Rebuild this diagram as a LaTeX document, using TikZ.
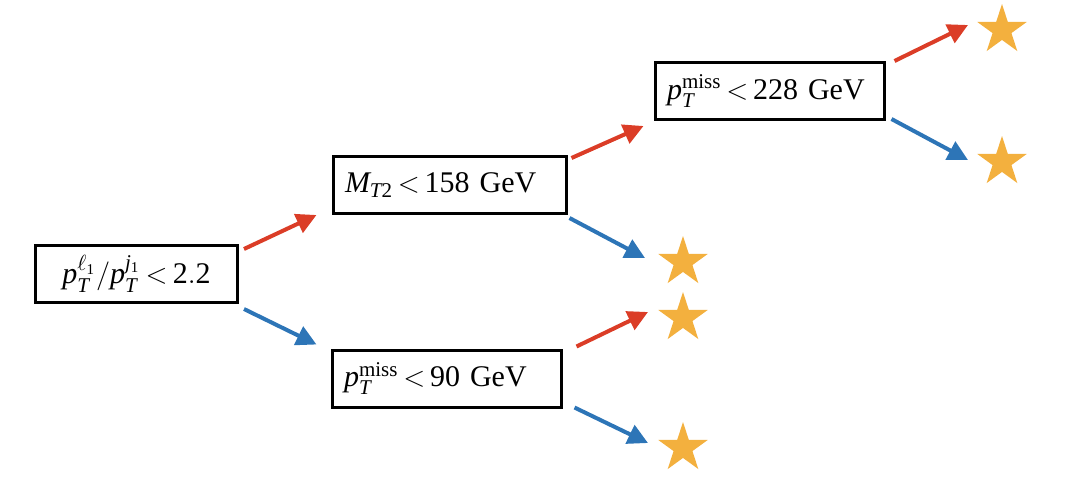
\documentclass[tikz,border=0pt]{standalone}
\usepackage{amsmath}
\usepackage{fontspec}
\setmainfont{Liberation Serif}
\usepackage{xcolor}
\usepackage{tikz}
\usetikzlibrary{arrows.meta,shapes.geometric,positioning}

\definecolor{cutred}{RGB}{219,61,39}
\definecolor{cutblue}{RGB}{45,117,183}
\definecolor{leafgold}{RGB}{243,176,62}

\newcommand{\pT}[1]{\mathit{p}_{\mathit{T}}^{#1}}
\relpenalty=10000
\binoppenalty=10000
\thickmuskip=3mu plus 1mu

\begin{document}
\begin{tikzpicture}[
    x=0.5pt, y=-0.5pt,
    cut/.style={rectangle,draw,line width=1.5pt,minimum height=28.5pt,inner xsep=6pt,
        align=left,font=\fontsize{15}{18}\selectfont},
    leaf/.style={star,star points=5,star point ratio=2.618,fill=leafgold,inner sep=0pt,minimum size=26pt},
    pass/.style={draw=cutred,line width=2pt,-{Triangle[length=10pt,width=10pt]}},
    fail/.style={draw=cutblue,line width=2pt,-{Triangle[length=10pt,width=10pt]}}
]
\useasboundingbox (0,0) rectangle (1088,488);
% cuts
\node[cut,text width=89pt,align=center] (ratio) at (136.5,274) {$\pT{\ell_{\mathrm{1}}}/\pT{\mathit{j}_{\mathrm{1}}}<\mathrm{2.2}$};
\node[cut,text width=104.5pt] (mtt) at (449.5,185) {$\mathit{M}_{\mathit{T}\mathrm{2}}<\mathrm{158}$\ GeV};
\node[cut,text width=102.5pt] (metlo) at (446.5,378.5) {$\pT{\mathrm{miss}}<\mathrm{90}$\ GeV};
\node[cut,text width=102.5pt] (methi) at (769.5,91) {$\pT{\mathrm{miss}}<\mathrm{228}$\ GeV};
% leaves
\node[leaf] (s1) at (683,262) {};
\node[leaf] (s2) at (683,318) {};
\node[leaf] (s3) at (683,448) {};
\node[leaf] (s4) at (1002,30) {};
\node[leaf] (s5) at (1002,162) {};
% branches
\draw[pass] ([shift={(5,5)}]ratio.north east) -- ([shift={(-15,0)}]mtt.south west);
\draw[fail] ([shift={(5,5)}]ratio.south east) -- ([shift={(-14,-4)}]metlo.north west);
\draw[pass] ([shift={(4,3)}]mtt.north east) -- ([shift={(-10,5)}]methi.south west);
\draw[fail] ([shift={(2,3)}]mtt.south east) -- ([shift={(-38,-4)}]s1.center);
\draw[pass] ([shift={(14,-2)}]metlo.north east) -- ([shift={(-35,-6)}]s2.center);
\draw[fail] ([shift={(12,-1)}]metlo.south east) -- ([shift={(-35,-5)}]s3.center);
\draw[pass] ([shift={(9,0)}]methi.north east) -- ([shift={(-34,-5)}]s4.center);
\draw[fail] ([shift={(6,-2)}]methi.south east) -- ([shift={(-34,-2)}]s5.center);
\end{tikzpicture}
\end{document}
